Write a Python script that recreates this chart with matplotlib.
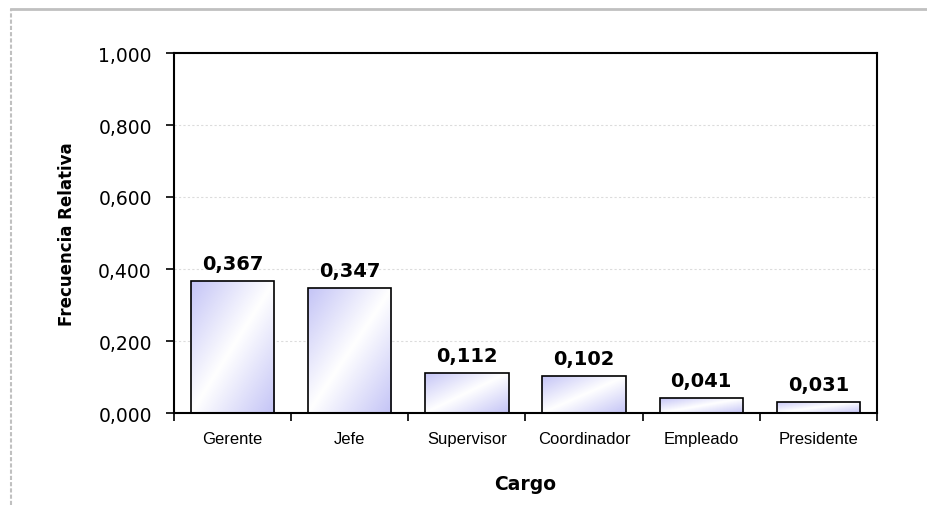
import numpy as np
import matplotlib.pyplot as plt
from matplotlib.colors import LinearSegmentedColormap
from matplotlib.lines import Line2D

# datos
cargos = ["Gerente", "Jefe", "Supervisor", "Coordinador", "Empleado", "Presidente"]
frecuencia = [0.367, 0.347, 0.112, 0.102, 0.041, 0.031]


def fmt(v):
    return f"{v:.3f}".replace(".", ",")


fig = plt.figure(figsize=(9.28, 5.06), dpi=100)
ax = fig.add_axes([174 / 928, 1 - 414 / 506, 703 / 928, 360 / 506])

x = np.arange(len(cargos))
bars = ax.bar(x, frecuencia, width=0.71, color="none", edgecolor="black", linewidth=1.2, zorder=3)

# relleno con degradado diagonal (lila arriba-izq, blanco al centro, lila abajo-der)
cmap = LinearSegmentedColormap.from_list("lav", ["#c4c4f6", "#ffffff", "#c4c4f6"])
yy, xx = np.mgrid[0:1:100j, 0:1:100j]
grad = (xx + yy) / 2
for b in bars:
    x0, y0 = b.get_x(), b.get_y()
    w, h = b.get_width(), b.get_height()
    im = ax.imshow(grad, cmap=cmap, extent=[x0, x0 + w, y0, y0 + h], origin="upper",
                   aspect="auto", zorder=2, interpolation="bilinear")
    im.set_clip_path(b)

for xi, v in zip(x, frecuencia):
    ax.text(xi, v + 0.022, fmt(v), ha="center", va="bottom", fontsize=14, fontweight="bold")

ax.set_xlim(-0.5, len(cargos) - 0.5)
ax.set_ylim(0, 1.0)
ax.set_yticks(np.arange(0, 1.01, 0.2))
ax.set_yticklabels([fmt(t) for t in np.arange(0, 1.01, 0.2)], fontsize=13.5)
ax.set_xticks(x)
ax.set_xticklabels(cargos, fontsize=12, family="Liberation Sans")
ax.set_xticks(np.arange(-0.5, len(cargos), 1), minor=True)
ax.tick_params(axis="x", which="major", length=0, pad=13)
ax.tick_params(axis="x", which="minor", length=6, width=1.2, direction="out")
ax.tick_params(axis="y", length=6, width=1.2, direction="out", pad=10)
ax.grid(axis="y", color="#dcdcdc", linestyle=(0, (2, 2)), linewidth=0.8, zorder=0)
for s in ax.spines.values():
    s.set_linewidth(1.5)

ax.set_ylabel("Frecuencia Relativa", fontsize=12, fontweight="bold", labelpad=16)
ax.set_xlabel("Cargo", fontsize=13.5, fontweight="bold", labelpad=20)

# marco gris de la hoja
fig.add_artist(Line2D([11 / 928, 1], [1 - 9.5 / 506] * 2, color="#c0c0c0", linewidth=2))
fig.add_artist(Line2D([11 / 928] * 2, [0, 1 - 9.5 / 506], color="#c0c0c0", linewidth=1.5,
                      linestyle=(0, (2, 1))))

fig.savefig("out.png", dpi=100)
